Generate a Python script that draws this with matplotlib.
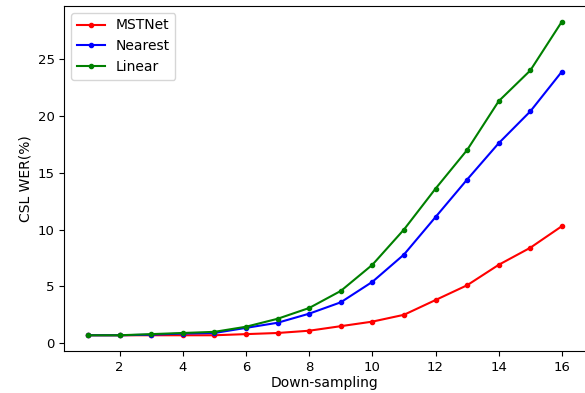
import matplotlib
matplotlib.use('Agg')
import matplotlib.pyplot as plt

x = list(range(1, 17))
mstnet = [0.7, 0.7, 0.7, 0.7, 0.7, 0.8, 0.9, 1.1, 1.5, 1.9, 2.5, 3.8, 5.1, 6.9, 8.4, 10.3]
nearest = [0.7, 0.7, 0.75, 0.85, 0.9, 1.35, 1.8, 2.6, 3.6, 5.4, 7.8, 11.1, 14.4, 17.6, 20.4, 23.9]
linear = [0.7, 0.7, 0.8, 0.9, 1.0, 1.45, 2.15, 3.1, 4.6, 6.9, 10.0, 13.6, 17.0, 21.3, 24.0, 28.3]

fig = plt.figure(figsize=(5.85, 3.93), dpi=100)
ax = fig.add_axes([0.110, 0.107, 0.891, 0.878])
ax.plot(x, mstnet, 'r.-', markersize=6, label='MSTNet')
ax.plot(x, nearest, 'b.-', markersize=6, label='Nearest')
ax.plot(x, linear, 'g.-', markersize=6, label='Linear')
ax.set_xticks([2, 4, 6, 8, 10, 12, 14, 16])
ax.set_yticks([0, 5, 10, 15, 20, 25])
ax.tick_params(labelsize=9.5)
ax.set_xlabel('Down-sampling', labelpad=2)
ax.set_ylabel('CSL WER(%)')
ax.legend(loc='upper left')
fig.savefig('out.png', dpi=100)
